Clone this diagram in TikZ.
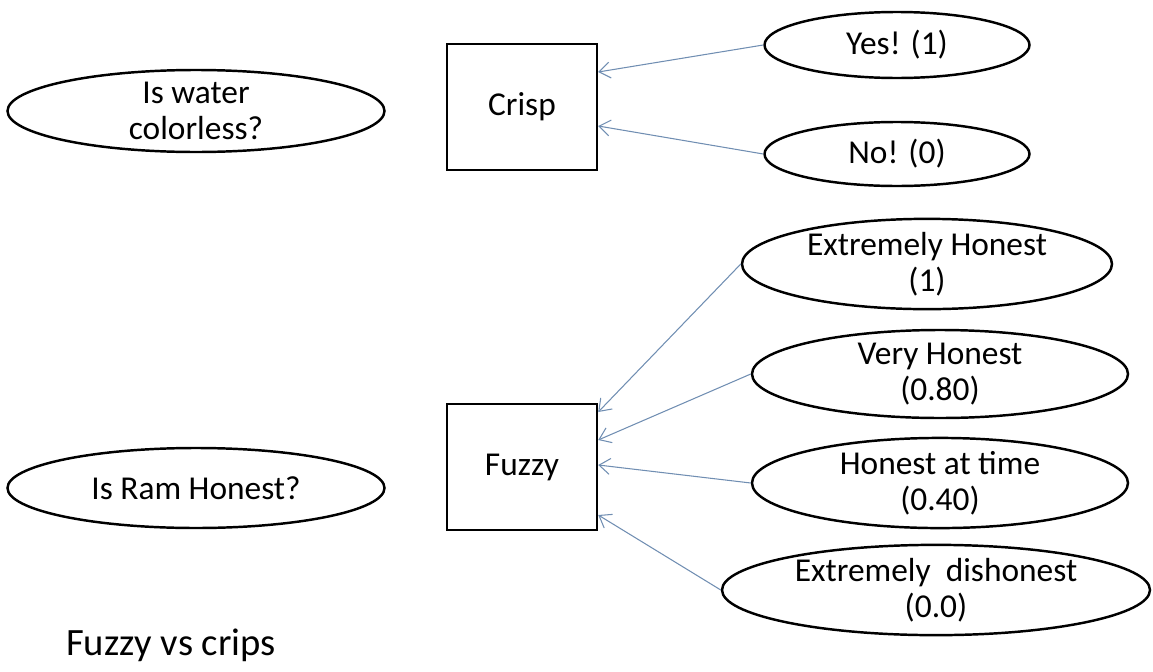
\documentclass[tikz,border=0pt]{standalone}
\usepackage{fontspec}
\setmainfont{Carlito}
\usetikzlibrary{shapes.geometric,arrows.meta,positioning}
\tikzstyle{question} = [draw, ellipse, line width=1.4pt, inner sep=0pt, align=center]
\tikzstyle{answer} = [draw, ellipse, line width=1.4pt, inner sep=0pt, align=center]
\tikzstyle{kind} = [draw, rectangle, line width=1.4pt, minimum width=3cm, minimum height=2.52cm]
\tikzstyle{link} = [draw, -{Straight Barb[length=2.2mm,width=3.2mm]}, color=steelblue, line width=0.6pt]
\definecolor{steelblue}{RGB}{112,142,178}

\begin{document}
\begin{tikzpicture}[font=\fontsize{19}{20.5}\selectfont]
  \useasboundingbox (0,0) rectangle (23.06,-13.42);
  % questions
  \node[question, minimum width=7.54cm, minimum height=1.64cm] (water) at (3.92,-2.22) {Is water\\colorless?};
  \node[question, minimum width=7.54cm, minimum height=1.6cm] (ram) at (3.92,-9.76) {Is Ram Honest?};
  % crisp or fuzzy
  \node[kind] (crisp) at (10.44,-2.14) {Crisp};
  \node[kind] (fuzzy) at (10.44,-9.34) {Fuzzy};
  % answers
  \node[answer, minimum width=5.3cm, minimum height=1.32cm] (yes) at (17.94,-0.9) {Yes! (1)};
  \node[answer, minimum width=5.3cm, minimum height=1.28cm] (no) at (17.94,-3.08) {No! (0)};
  \node[answer, minimum width=7.4cm, minimum height=1.66cm] (exth) at (18.54,-5.28) {Extremely Honest\\(1)};
  \node[answer, minimum width=7.52cm, minimum height=1.76cm] (veryh) at (18.8,-7.48) {Very Honest\\(0.80)};
  \node[answer, minimum width=7.52cm, minimum height=1.72cm] (attime) at (18.8,-9.66) {Honest at time\\(0.40)};
  \node[answer, minimum width=8.56cm, minimum height=1.68cm] (exdis) at (18.72,-11.8) {Extremely~~dishonest\\(0.0)};
  \node[anchor=base west, font=\fontsize{22}{26}\selectfont] (title) at (1.2,-13.1) {Fuzzy vs crips};
  % arrows
  \draw[link] (yes.west) -- ([yshift=0.7cm]crisp.east);
  \draw[link] (no.west) -- ([yshift=-0.38cm]crisp.east);
  \draw[link] (exth.west) -- ([yshift=1.1cm]fuzzy.east);
  \draw[link] (veryh.west) -- ([yshift=0.54cm]fuzzy.east);
  \draw[link] (attime.west) -- ([yshift=0.04cm]fuzzy.east);
  \draw[link] (exdis.west) -- ([yshift=-0.96cm]fuzzy.east);
\end{tikzpicture}
\end{document}
